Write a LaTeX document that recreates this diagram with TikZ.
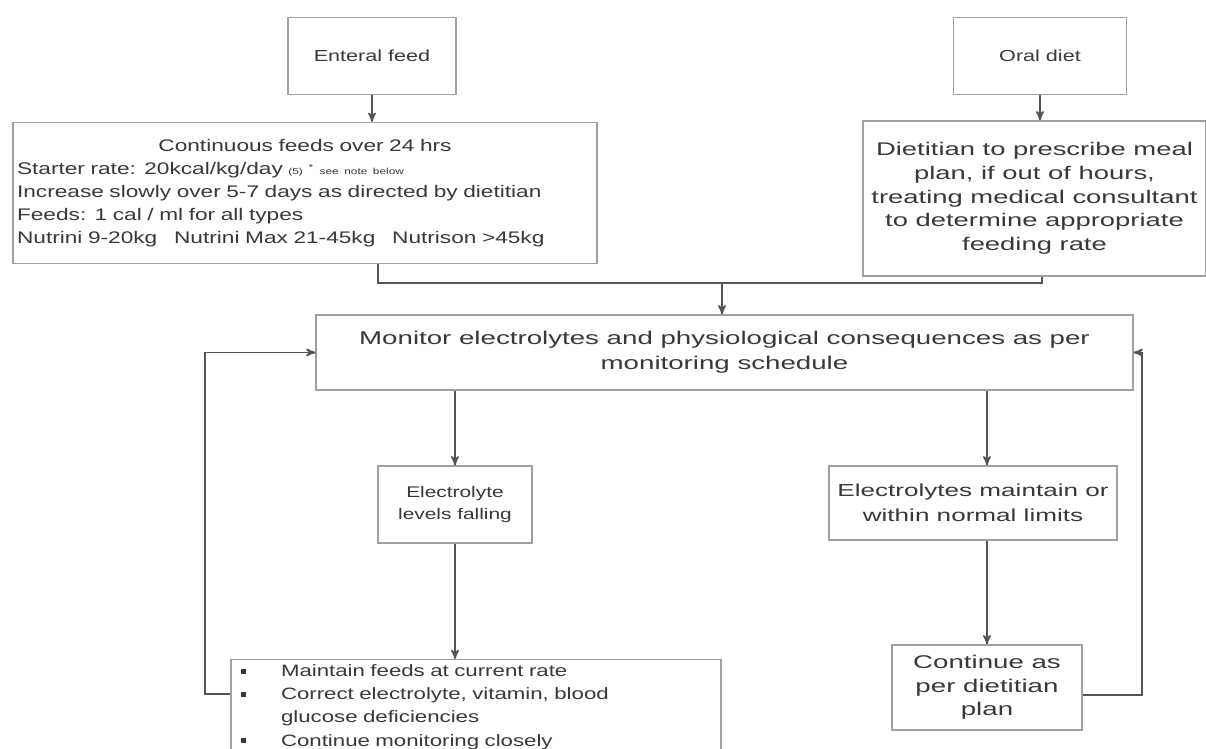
\documentclass[tikz,border=0pt]{standalone}
\usepackage{fontspec}
\setmainfont{Liberation Sans}[FakeStretch=1.35]
\newfontfamily\widefont{Liberation Sans}[FakeStretch=1.5]
\usetikzlibrary{arrows,positioning}
\definecolor{boxgray}{HTML}{A0A0A0}
\definecolor{linegray}{HTML}{555555}
\definecolor{textgray}{HTML}{383838}
\newcommand{\bul}{\makebox[0.8cm][l]{\rule[1.5pt]{3pt}{3pt}}}
\newcommand{\fs}[2]{\fontsize{#1}{#2}\selectfont}

\begin{document}
\begin{tikzpicture}[x=0.02cm,y=-0.02cm,>=stealth',auto]
  \tikzstyle{box}=[draw=boxgray,line width=0.7pt,text=textgray,align=center,inner sep=0.08cm,font=\fs{9.1}{13}]
  \tikzstyle{line}=[draw=linegray,line width=0.9pt]
  \tikzstyle{arrow}=[line,->]

  \useasboundingbox (0,0) rectangle (1206,749);
  \clip (0,0) rectangle (1206,749);

  \node[box,minimum width=3.36cm,minimum height=1.54cm] (ent) at (372,56) {Enteral feed};
  \node[box,minimum width=3.46cm,minimum height=1.54cm] (oral) at (1040,56) {Oral diet};
  \node[box,minimum width=11.68cm,minimum height=2.82cm,text width=11.52cm,align=left,font=\fs{9.55}{13}] (cont) at (305,193)
    {{\centering Continuous feeds over 24 hrs\par}
     Starter rate: 20kcal/kg/day {\fs{5}{7}(5) \textsuperscript{*} see note below}\\
     Increase slowly over 5-7 days as directed by dietitian\\
     Feeds: 1 cal / ml for all types\\
     Nutrini 9-20kg\quad Nutrini Max 21-45kg\quad Nutrison >45kg};
  \node[box,minimum width=6.86cm,minimum height=3.1cm,font=\widefont\fs{10.4}{13.5}] (diet) at (1034.5,198.5)
    {Dietitian to prescribe meal\\ plan, if out of hours,\\ treating medical consultant\\ to determine appropriate\\ feeding rate};
  \node[box,minimum width=16.34cm,minimum height=1.5cm,font=\widefont\fs{10.5}{14}] (mon) at (724.5,352.5)
    {Monitor electrolytes and physiological consequences as per\\ monitoring schedule};
  \node[box,minimum width=3.08cm,minimum height=1.54cm,font=\fs{8.8}{13}] (fall) at (455,504.5)
    {Electrolyte\\ levels falling};
  \node[box,minimum width=5.76cm,minimum height=1.48cm,font=\widefont\fs{9.9}{14}] (norm) at (973,503)
    {Electrolytes maintain or\\ within normal limits};
  \node[box,anchor=north,minimum width=9.64cm,text width=9.4cm,align=left,inner xsep=0.2cm,inner ysep=0.1cm,font=\fs{9.37}{13.2}] (keep) at (476,659)
    {\bul Maintain feeds at current rate\\
     \bul Correct electrolyte, vitamin, blood\\
     \hspace*{0.8cm}glucose deficiencies\\
     \bul Continue monitoring closely\\ \mbox{}};
  \node[box,minimum width=3.8cm,minimum height=1.7cm,font=\widefont\fs{10.5}{13.5}] (plan) at (987,687.5)
    {Continue as\\ per dietitian\\ plan};

  \coordinate (cj) at (378,283);
  \coordinate (dj) at (1042,283);
  \coordinate (j) at (722,283);
  \coordinate (ll) at (205,694);
  \coordinate (rl) at (1142,695);

  \draw[arrow] (ent) -- (ent |- cont.north);
  \draw[arrow] (oral) -- (oral |- diet.north);
  \draw[line] (cont.south -| cj) -- (cj) -- (dj) -- (diet.south -| dj);
  \draw[arrow] (j) -- (mon.north -| j);
  \draw[arrow] (mon.south -| fall) -- (fall);
  \draw[arrow] (mon.south -| plan) -- (norm.north -| plan);
  \draw[arrow] (fall) -- (fall |- keep.north);
  \draw[arrow] (norm.south -| plan) -- (plan);
  \draw[arrow] (keep.west |- ll) -- (ll) |- (mon.west);
  \draw[arrow] (plan.east |- rl) -- (rl) |- (mon.east);
\end{tikzpicture}
\end{document}
